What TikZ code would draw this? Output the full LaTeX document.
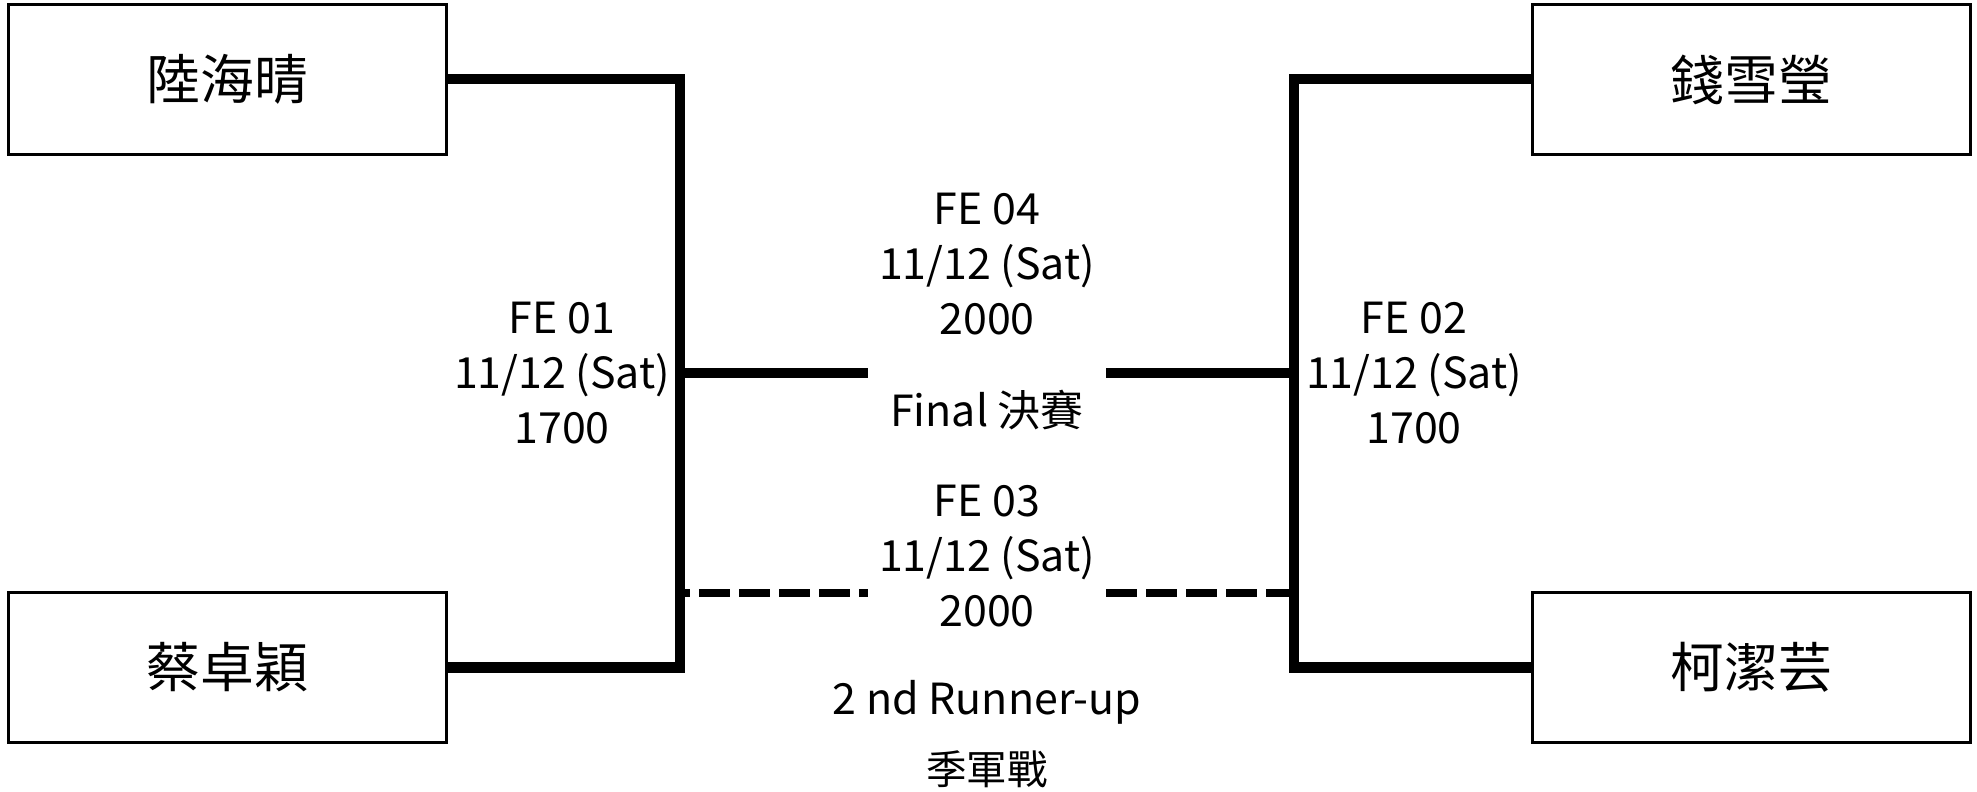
\documentclass[tikz,border=0pt]{standalone}
\usepackage{fontspec}
\setmainfont{Noto Sans CJK TC}
\usetikzlibrary{positioning}

\begin{document}
\begin{tikzpicture}[x=0.01cm, y=-0.01cm,
    player/.style={rectangle, draw, line width=0.85pt, minimum width=4.37cm, minimum height=1.49cm, font=\fontsize{15.3}{18}\selectfont},
    match/.style={align=center, font=\fontsize{12.2}{15.6}\selectfont},
    bracket/.style={line width=2.85pt, line join=miter},
    thirdline/.style={line width=2.2pt, dash pattern=on 0.31cm off 0.09cm},
    small/.style={font=\fontsize{11.5}{14}\selectfont}]
			\useasboundingbox (0,0) rectangle (1977,792);

			% Players
			\node (p1) [player] at (227.5,79.5) {陸海晴};
			\node (p2) [player] at (227.5,667.5) {蔡卓穎};
			\node (p3) [player] at (1751.5,79.5) {錢雪瑩};
			\node (p4) [player] at (1751.5,667.5) {柯潔芸};

			% Matches
			\node (fe01) [match] at (562,373) {FE 01\\11/12 (Sat)\\1700};
			\node (fe02) [match] at (1414,373) {FE 02\\11/12 (Sat)\\1700};
			\node (fe04) [match] at (987,264) {FE 04\\11/12 (Sat)\\2000};
			\node (final) [match] at (987,410) {Final 決賽};
			\node (fe03) [match] at (987,556) {FE 03\\11/12 (Sat)\\2000};
			\node (third) [match] at (987,702) {2 nd Runner-up};
			\node (thirdzh) [small] at (987,769) {季軍戰};

			% Bracket corners
			\coordinate (lb) at (680,667.5);
			\coordinate (rb) at (1294,667.5);
			\coordinate (lm) at (680,373);
			\coordinate (lmend) at (868,373);
			\coordinate (rm) at (1294,373);
			\coordinate (rmend) at (1106,373);
			\coordinate (ld) at (681,593);
			\coordinate (ldend) at (868,593);
			\coordinate (rd) at (1294,593);
			\coordinate (rdend) at (1106,593);

			% Edges
			\draw[bracket] (p1.east) -| (lb) -- (p2.east);
			\draw[bracket] (p3.west) -| (rb) -- (p4.west);
			\draw[bracket] (lm) -- (lmend);
			\draw[bracket] (rm) -- (rmend);
			\draw[thirdline, dash phase=0.22cm] (ld) -- (ldend);
			\draw[thirdline] (rdend) -- (rd);

		\end{tikzpicture}
\end{document}
